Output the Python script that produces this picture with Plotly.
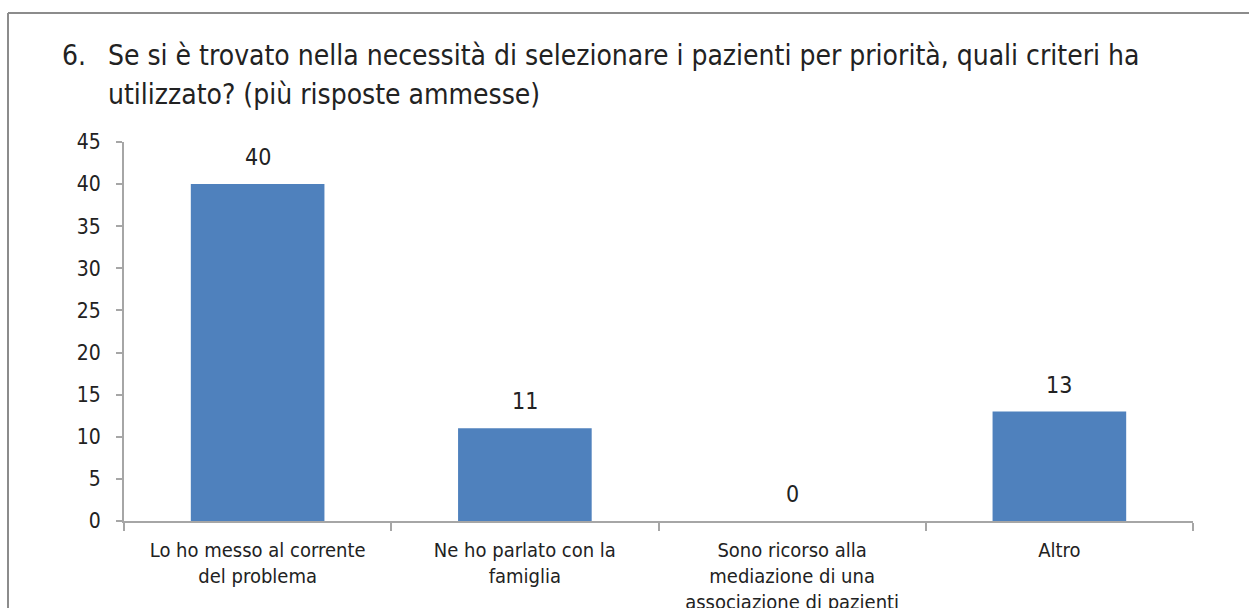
import plotly.graph_objects as go

categories = [
    "Lo ho messo al corrente<br>del problema",
    "Ne ho parlato con la<br>famiglia",
    "Sono ricorso alla<br>mediazione di una<br>associazione di pazienti",
    "Altro",
]
values = [40, 11, 0, 13]
y_ticks = [0, 5, 10, 15, 20, 25, 30, 35, 40, 45]

title_num = "6."
title_lines = [
    "Se si è trovato nella necessità di selezionare i pazienti per priorità, quali criteri ha",
    "utilizzato? (più risposte ammesse)",
]

FONT = "DejaVu Sans Condensed, Liberation Sans Narrow, sans-serif"
W, H = 1249, 608
L, R, T, B = 124, 56, 142, 87
pw = W - L - R
ph = H - T - B


def px_x(p):
    return (p - L) / pw


def px_y(p):
    return (H - B - p) / ph


fig = go.Figure(
    go.Bar(
        x=categories,
        y=values,
        marker=dict(color="#4F81BD", line=dict(width=0)),
        width=0.5,
        hoverinfo="skip",
    )
)

# data labels above the bars
for c, v in zip(categories, values):
    fig.add_annotation(
        x=c, y=v, text=str(v), showarrow=False,
        yanchor="bottom", yshift=12,
        font=dict(family=FONT, size=23, color="#222222"),
    )

fig.add_annotation(
    xref="paper", yref="paper", x=px_x(60), y=px_y(55),
    xanchor="left", yanchor="middle",
    text=title_num, showarrow=False,
    font=dict(family=FONT, size=28, color="#222222"),
)
for i, line in enumerate(title_lines):
    fig.add_annotation(
        xref="paper", yref="paper", x=px_x(106), y=px_y(55 + 40 * i),
        xanchor="left", yanchor="middle",
        text=line, showarrow=False,
        font=dict(family=FONT, size=28, color="#222222"),
    )

# frame around the chart (cropped at right/bottom)
fig.add_shape(
    type="line", xref="paper", yref="paper",
    x0=px_x(8), x1=px_x(W + 20), y0=px_y(13), y1=px_y(13),
    line=dict(color="#8C8C8C", width=2),
)
fig.add_shape(
    type="line", xref="paper", yref="paper",
    x0=px_x(8), x1=px_x(8), y0=px_y(13), y1=px_y(H + 20),
    line=dict(color="#8C8C8C", width=2),
)

fig.update_xaxes(
    showline=True, linecolor="#A6A6A6", linewidth=2,
    ticks="outside", tickson="boundaries", ticklen=8, tickcolor="#A6A6A6", tickwidth=2,
    tickfont=dict(family=FONT, size=20, color="#222222"),
    ticklabelstandoff=10, automargin=False,
    showgrid=False, zeroline=False,
)
fig.update_yaxes(
    range=[0, 45], tickvals=y_ticks,
    showline=True, linecolor="#A6A6A6", linewidth=2,
    ticks="outside", ticklen=6, tickcolor="#A6A6A6", tickwidth=2,
    tickfont=dict(family=FONT, size=21, color="#222222"),
    ticklabelstandoff=11, automargin=False,
    showgrid=False, zeroline=False,
)
fig.update_layout(
    width=W, height=H,
    margin=dict(l=L, r=R, t=T, b=B),
    paper_bgcolor="white", plot_bgcolor="white",
    showlegend=False, bargap=0.5,
    font=dict(family=FONT),
)

fig.write_html(
    "out.html",
    config={"displayModeBar": False},
    post_script="document.body.style.margin='0';document.body.style.overflow='hidden';",
)
